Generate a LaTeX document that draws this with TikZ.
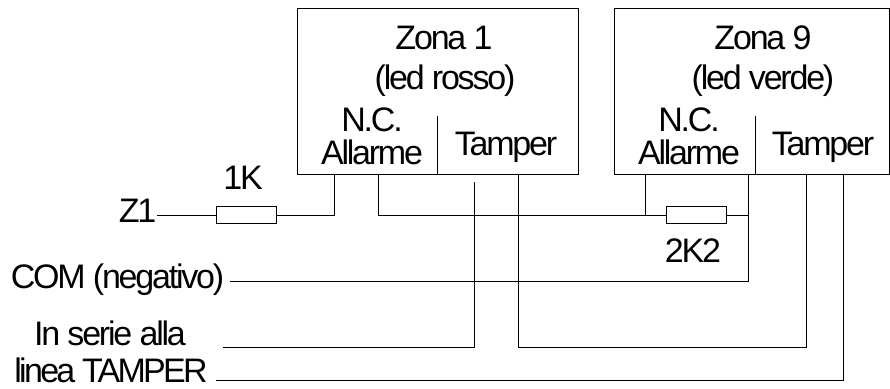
\documentclass[tikz,border=0pt]{standalone}
\usepackage{fontspec}
\setmainfont[LetterSpace=-6.5]{Liberation Sans}
\tikzset{
    x=0.75pt, y=-0.75pt,
    zonebox/.style={draw, line width=0.75pt, minimum width=#1*0.75pt, minimum height=124.5pt, inner sep=0pt},
    resistor/.style={draw, line width=0.75pt, minimum width=45pt, minimum height=13pt, inner sep=0pt},
    txt/.style={anchor=base, inner sep=0pt, font=\fontsize{25.5pt}{28pt}\selectfont},
    wire/.style={line width=0.75pt}
}

\begin{document}
\begin{tikzpicture}
    \useasboundingbox (0, 0) rectangle (890, 389);

    \path (437.5, 91.5) node [zonebox=281] (zona1) {};
    \path (752, 91.5) node [zonebox=275] (zona9) {};

    \path (444, 49) node [txt] (zona1a) {Zona 1};
    \path (445, 89) node [txt] (zona1b) {(led rosso)};
    \path (372, 131) node [txt] (nc1) {N.C.};
    \path (372, 164) node [txt] (all1) {Allarme};
    \path (506, 155) node [txt] (tam1) {Tamper};

    \path (763, 49) node [txt] (zona9a) {Zona 9};
    \path (763, 89) node [txt] (zona9b) {(led verde)};
    \path (689, 131) node [txt] (nc9) {N.C.};
    \path (689, 164) node [txt] (all9) {Allarme};
    \path (823, 155) node [txt] (tam9) {Tamper};

    \path (246, 215) node [resistor] (r1) {};
    \path (696.5, 215) node [resistor] (r2) {};
    \path (243, 189) node [txt] (r1l) {1K};
    \path (693, 262) node [txt] (r2l) {2K2};

    \path (137.5, 222) node [txt] (z1) {Z1};
    \path (117.5, 288) node [txt] (com) {COM (negativo)};
    \path (110, 345) node [txt] (ser) {In serie alla};
    \path (111, 382) node [txt] (lin) {\addfontfeature{LetterSpace=-8}linea TAMPER};

    \coordinate (d1t) at (437, 116);
    \coordinate (d1b) at (437, 174);
    \coordinate (d9t) at (755, 116);
    \coordinate (d9b) at (755, 174);
    \draw [wire] (d1t) -- (d1b);
    \draw [wire] (d9t) -- (d9b);

    \coordinate (a1) at (334.5, 174);
    \coordinate (a2) at (378, 174);
    \coordinate (a3) at (645, 174);
    \coordinate (a4) at (748, 174);
    \coordinate (t1) at (518.5, 174);
    \coordinate (t2) at (806.5, 174);
    \coordinate (t3) at (843.5, 174);
    \coordinate (s1) at (474.5, 182);
    \coordinate (com1) at (230, 281.5);
    \coordinate (ser1) at (223, 347.5);
    \coordinate (lin1) at (216, 380.5);
    \coordinate (z1r) at (157, 215);

    \draw [wire] (z1r) -- (r1.west);
    \draw [wire] (r1.east) -| (a1);
    \draw [wire] (a2) |- (r2.west);
    \draw [wire] (a3) -- (a3 |- r2.west);
    \draw [wire] (r2.east) -- (a4 |- r2.east);
    \draw [wire] (a4) |- (com1);
    \draw [wire] (ser1) -| (s1);
    \draw [wire] (t1) |- (ser1 -| t2) -- (t2);
    \draw [wire] (lin1) -| (t3);
\end{tikzpicture}
\end{document}
